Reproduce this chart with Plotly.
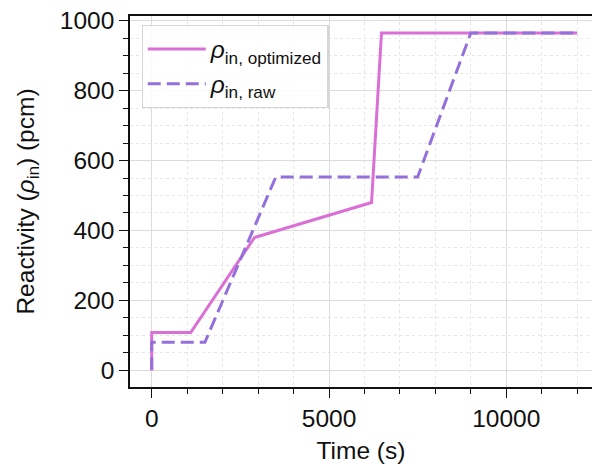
import plotly.graph_objects as go

# Data
t_opt = [0, 0, 1100, 2900, 6200, 6480, 12000]
rho_opt = [0, 108, 108, 380, 480, 965, 965]
t_raw = [0, 0, 1500, 3500, 7500, 9000, 12000]
rho_raw = [0, 80, 80, 553, 553, 965, 965]

x_tickvals = [0, 5000, 10000]
x_ticktext = ["0", "5000", "10000"]
y_tickvals = [0, 200, 400, 600, 800, 1000]
y_ticktext = ["0", "200", "400", "600", "800", "1000"]

FONT = "Arial, Liberation Sans, Helvetica, sans-serif"
FS = 24.5

fig = go.Figure()
fig.add_trace(go.Scatter(
    x=t_opt, y=rho_opt, mode="lines",
    line=dict(color="#DA70D6", width=3),
    name="<i>ρ</i><sub>in, optimized</sub>",
))
fig.add_trace(go.Scatter(
    x=t_raw, y=rho_raw, mode="lines",
    line=dict(color="#9370DB", width=3, dash="13px,6px"),
    name="<i>ρ</i><sub>in, raw</sub>",
))

fig.update_layout(
    width=592, height=466,
    margin=dict(l=130, r=0, t=16, b=79),
    paper_bgcolor="white", plot_bgcolor="white",
    font=dict(family=FONT, size=FS, color="#111111"),
    showlegend=True,
    legend=dict(
        x=0.025, y=0.975, xanchor="left", yanchor="top",
        bgcolor="rgba(255,255,255,0.85)",
        bordercolor="#d5d5d5", borderwidth=1.2,
        font=dict(family=FONT, size=FS, color="#111111"),
        itemwidth=58,
        tracegroupgap=2,
    ),
)

fig.update_xaxes(
    range=[-612, 12417],
    tickvals=x_tickvals, ticktext=x_ticktext,
    ticks="outside", ticklen=9, tickwidth=1.4, tickcolor="#111111",
    showline=True, linecolor="#111111", linewidth=1.6, mirror=True,
    showgrid=True, gridcolor="#dcdcdc", gridwidth=1.3,
    zeroline=False,
    minor=dict(dtick=1000, tick0=0, ticks="outside", ticklen=5, tickwidth=1.2,
               tickcolor="#111111", showgrid=True, gridcolor="#e6e6e6",
               griddash="dot", gridwidth=1),
    title=dict(text="Time (s)", standoff=11, font=dict(size=FS)),
    automargin=False,
)
fig.update_yaxes(
    range=[-47.7, 1013.4],
    tickvals=y_tickvals, ticktext=y_ticktext,
    ticks="outside", ticklen=9, tickwidth=1.4, tickcolor="#111111",
    showline=True, linecolor="#111111", linewidth=1.6, mirror=False,
    showgrid=True, gridcolor="#dcdcdc", gridwidth=1.3,
    zeroline=False,
    minor=dict(dtick=50, tick0=0, ticks="outside", ticklen=5, tickwidth=1.2,
               tickcolor="#111111", showgrid=True, gridcolor="#e6e6e6",
               griddash="dot", gridwidth=1),
    title=dict(text="Reactivity (<i>ρ</i><sub>in</sub>) (pcm)", standoff=18, font=dict(size=FS)),
    automargin=False,
)

fig.write_html(
    "out.html",
    config={"displayModeBar": False},
    post_script="document.body.style.margin='0';document.body.style.overflow='hidden';",
)
